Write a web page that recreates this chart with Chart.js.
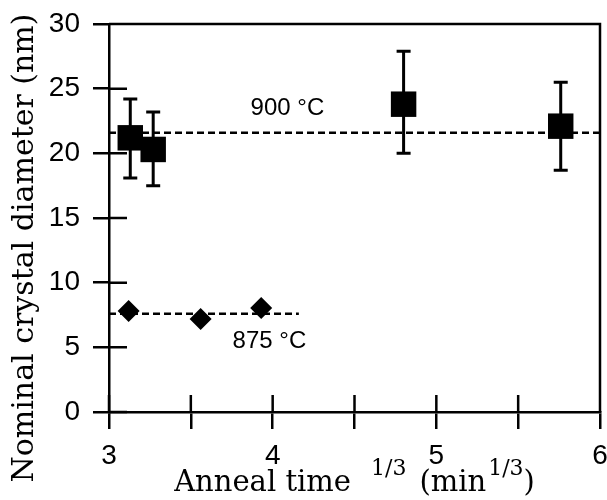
<!DOCTYPE html>
<html>
<head>
<meta charset="utf-8">
<script src="https://cdn.jsdelivr.net/npm/chart.js@4.4.0/dist/chart.umd.min.js"></script>
<style>
  html, body { margin: 0; padding: 0; background: #fff; }
  #wrap { width: 607px; height: 500px; }
</style>
</head>
<body>
<div id="wrap"><canvas id="grainChart" width="607" height="500"></canvas></div>
<script>
// 900 °C anneals: mean diameter with error bar ends
const x900 = [3.13, 3.27, 4.80, 5.76];
const d900 = [21.2, 20.3, 23.8, 22.1];
const hi900 = [24.2, 23.2, 27.9, 25.5];
const lo900 = [18.1, 17.5, 20.0, 18.7];

// 875 °C anneals
const x875 = [3.12, 3.56, 3.93];
const d875 = [7.8, 7.2, 8.05];

// dashed average lines
const mean900X = [3, 6];
const mean900Y = [21.6, 21.6];
const mean875X = [3, 4.16];
const mean875Y = [7.6, 7.6];

// axes
const xTicks = [3, 3.5, 4, 4.5, 5, 5.5, 6];
const xTickLabels = [3, 4, 5, 6];
const yTicks = [0, 5, 10, 15, 20, 25, 30];
const seriesLabels = ['900 °C', '875 °C'];

const toPts = (xs, ys) => xs.map((x, i) => ({ x: x, y: ys[i] }));

Chart.defaults.font.family = '"Liberation Sans", Arial, sans-serif';
Chart.defaults.color = '#000';

// error bars for the 900 series, drawn under the squares
const errorBars = {
    id: 'errorBars',
    beforeDatasetsDraw(chart) {
        const { ctx, scales: { x, y } } = chart;
        ctx.save();
        ctx.strokeStyle = '#000';
        ctx.lineWidth = 3;
        x900.forEach((v, i) => {
            const px = x.getPixelForValue(v);
            const top = y.getPixelForValue(hi900[i]);
            const bot = y.getPixelForValue(lo900[i]);
            ctx.beginPath();
            ctx.moveTo(px, top); ctx.lineTo(px, bot);
            ctx.moveTo(px - 7, top); ctx.lineTo(px + 7, top);
            ctx.moveTo(px - 7, bot); ctx.lineTo(px + 7, bot);
            ctx.stroke();
        });
        ctx.restore();
    }
};

// box on top/right and the inner half of every tick
const frame = {
    id: 'frame',
    beforeDatasetsDraw(chart) {
        const { ctx, chartArea: a, scales: { x, y } } = chart;
        ctx.save();
        ctx.strokeStyle = '#000';
        ctx.lineWidth = 2.5;
        ctx.beginPath();
        ctx.moveTo(a.left, a.top); ctx.lineTo(a.right, a.top); ctx.lineTo(a.right, a.bottom);
        xTicks.forEach(v => {
            const px = x.getPixelForValue(v);
            ctx.moveTo(px, a.bottom); ctx.lineTo(px, a.bottom - 17);
        });
        yTicks.forEach(v => {
            const py = y.getPixelForValue(v);
            ctx.moveTo(a.left, py); ctx.lineTo(a.left + 18, py);
        });
        ctx.stroke();
        ctx.restore();
    }
};

const textLayer = {
    id: 'textLayer',
    afterDraw(chart) {
        const { ctx, chartArea: a, scales: { x, y } } = chart;
        ctx.save();
        ctx.fillStyle = '#000';

        // series labels
        ctx.font = '24px "Liberation Sans", Arial, sans-serif';
        ctx.textAlign = 'center';
        ctx.textBaseline = 'middle';
        ctx.fillText(seriesLabels[0], x.getPixelForValue(4.09), y.getPixelForValue(23.45));
        ctx.fillText(seriesLabels[1], x.getPixelForValue(3.98), y.getPixelForValue(5.49));

        // y title
        ctx.save();
        ctx.translate(33, 248);
        ctx.rotate(-Math.PI / 2);
        ctx.font = '30px "DejaVu Serif", serif';
        ctx.textAlign = 'center';
        ctx.textBaseline = 'alphabetic';
        ctx.fillText('Nominal crystal diameter (nm)', 0, 0);
        ctx.restore();

        // x title with superscripts
        const big = '29px "DejaVu Serif", serif';
        const sup = '22px "DejaVu Serif", serif';
        const parts = [
            { t: 'Anneal time', f: big, gap: 0, dy: 0 },
            { t: '1/3', f: sup, gap: 20, dy: -16 },
            { t: '(min', f: big, gap: 13, dy: 0 },
            { t: '1/3', f: sup, gap: 2, dy: -16 },
            { t: ')', f: big, gap: 0, dy: 0 }
        ];
        let total = 0;
        parts.forEach(p => { ctx.font = p.f; p.w = ctx.measureText(p.t).width; total += p.gap + p.w; });
        let cx = (a.left + a.right) / 2 - total / 2;
        ctx.textAlign = 'left';
        ctx.textBaseline = 'alphabetic';
        parts.forEach(p => {
            cx += p.gap;
            ctx.font = p.f;
            ctx.fillText(p.t, cx, 491 + p.dy);
            cx += p.w;
        });
        ctx.restore();
    }
};

const ctx = document.getElementById('grainChart').getContext('2d');
new Chart(ctx, {
    type: 'scatter',
    data: {
        datasets: [
            {
                type: 'line', label: 'avg900', data: toPts(mean900X, mean900Y),
                borderColor: '#000', borderWidth: 2.5, borderDash: [7, 4],
                pointRadius: 0, fill: false
            },
            {
                type: 'line', label: 'avg875', data: toPts(mean875X, mean875Y),
                borderColor: '#000', borderWidth: 2.5, borderDash: [7, 4],
                pointRadius: 0, fill: false
            },
            {
                label: seriesLabels[0], data: toPts(x900, d900),
                pointStyle: 'rect', pointRadius: 18,
                backgroundColor: '#000', borderColor: '#000', borderWidth: 0
            },
            {
                label: seriesLabels[1], data: toPts(x875, d875),
                pointStyle: 'rectRot', pointRadius: 11,
                backgroundColor: '#000', borderColor: '#000', borderWidth: 0
            }
        ]
    },
    options: {
        responsive: false,
        animation: false,
        layout: { autoPadding: false, padding: { top: 24, right: 7, left: 0, bottom: 0 } },
        plugins: { legend: { display: false }, tooltip: { enabled: false } },
        scales: {
            x: {
                type: 'linear', min: 3, max: 6,
                afterBuildTicks: s => { s.ticks = xTicks.map(v => ({ value: v })); },
                afterFit: s => { s.height = 88; s.paddingLeft = 0; s.paddingRight = 0; },
                ticks: {
                    autoSkip: false, maxRotation: 0, padding: 10,
                    font: { size: 28 },
                    callback: v => xTickLabels.includes(v) ? String(v) : ''
                },
                grid: { drawOnChartArea: false, drawTicks: true, tickLength: 17, lineWidth: 2.5, color: '#000' },
                border: { display: true, color: '#000', width: 2.5 }
            },
            y: {
                type: 'linear', min: 0, max: 30,
                afterBuildTicks: s => { s.ticks = yTicks.map(v => ({ value: v })); },
                afterFit: s => { s.width = 109; s.paddingTop = 0; s.paddingBottom = 0; },
                ticks: { autoSkip: false, padding: 13, font: { size: 28 } },
                grid: { drawOnChartArea: false, drawTicks: true, tickLength: 16, lineWidth: 2.5, color: '#000' },
                border: { display: true, color: '#000', width: 2.5 }
            }
        }
    },
    plugins: [frame, errorBars, textLayer]
});
</script>
</body>
</html>
